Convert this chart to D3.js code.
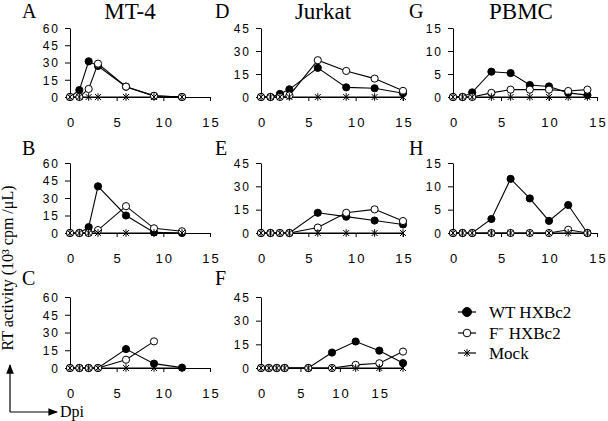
<!DOCTYPE html>
<html>
<head>
<meta charset="utf-8">
<script src="https://cdn.jsdelivr.net/npm/d3@7"></script>
<style>
  body { margin: 0; background: #fff; }
  svg { display: block; }
  .tick text { font-family: "Liberation Sans", Arial, sans-serif; fill: #000; letter-spacing: 2px; }
  .serif { font-family: "Liberation Serif", "Times New Roman", serif; fill: #000; }
</style>
</head>
<body>
<svg id="chart" width="608" height="421"></svg>
<script>
// cell lines (column titles) and series names
const cellTitles = ["MT-4", "Jurkat", "PBMC"];
const seriesNames = ["WT HXBc2", "F\u207B HXBc2", "Mock"];

// tick values
const mt4Ticks = [0, 15, 30, 45, 60];
const jurkatTicks = [0, 15, 30, 45];
const pbmcTicks = [0, 5, 10, 15];
const dayTicks = [0, 5, 10, 15];

// MT-4 (A, B, C)
const daysMT4 = [0, 1, 2, 3, 6, 9, 12];
const wtA = [0, 6, 31, 27, 9, 1, 0];
const fA = [0, 0, 7, 29, 9, 1, 0];
const mockA = [0, 0, 0, 0, 0, 0, 0];
const wtB = [0, 0, 5, 40, 15, 0.5, 0];
const fB = [0, 0, 0, 2.5, 23, 4, 1.5];
const mockB = [0, 0, 0, 0, 0, 0, 0];
const daysC = [0, 1, 2, 3, 6, 9, 12];
const wtC = [0, 0, 0, 0, 16, 3.7, 0.3];
const daysCf = [0, 1, 2, 3, 6, 9];
const fC = [0, 0, 0, 0, 7, 22.5];
const mockC = [0, 0, 0, 0, 0, 0, 0];

// Jurkat (D, E, F)
const daysJurkat = [0, 1, 2, 3, 6, 9, 12, 15];
const wtD = [0, 0, 2, 5, 19, 6.3, 5.7, 2.5];
const fD = [0, 0, 0, 1, 24, 17, 12, 4];
const mockD = [0, 0, 0, 0, 0, 0, 0, 0];
const wtE = [0, 0, 0, 0, 13, 10.5, 8, 5.5];
const fE = [0, 0, 0, 0, 3.5, 13, 15.2, 7.7];
const mockE = [0, 0, 0, 0, 0, 0, 0, 0];
const daysF = [0, 1, 2, 3, 6, 9, 12, 15, 18];
const wtF = [0, 0, 0, 0, 0, 9.8, 16.8, 11, 3.1];
const fF = [0, 0, 0, 0, 0, 0, 2, 3, 10.4];
const mockF = [0, 0, 0, 0, 0, 0, 0, 0, 0];

// PBMC (G, H)
const daysPBMC = [0, 1, 2, 4, 6, 8, 10, 12, 14];
const wtG = [0, 0, 1, 5.5, 5.2, 2.6, 2.3, 0.9, 0.4];
const fG = [0, 0, 0, 0.9, 1.6, 1.6, 1.6, 1.3, 1.6];
const mockG = [0, 0, 0, 0, 0, 0, 0, 0, 0];
const wtH = [0, 0, 0, 3, 11.6, 7.4, 2.6, 6, 0];
const fH = [0, 0, 0, 0, 0, 0, 0, 0.7, 0];
const mockH = [0, 0, 0, 0, 0, 0, 0, 0, 0];

// layout
const cols = [
  { x0: 70, w: 140, letterX: 22, titleX: 130 },
  { x0: 261, w: 142, letterX: 215, titleX: 323 },
  { x0: 453, w: 144, letterX: 409, titleX: 521 }
];
const rows = [
  { y0: 97, top: 28, letterY: 18 },
  { y0: 233, top: 163, letterY: 155 },
  { y0: 368, top: 297, letterY: 285 }
];

const zip = (xs, ys) => xs.map((d, i) => [d, ys[i]]);

const panels = [
  { letter: "A", col: 0, row: 0, ticks: mt4Ticks, xMax: 15, wt: zip(daysMT4, wtA), f: zip(daysMT4, fA), mock: zip(daysMT4, mockA) },
  { letter: "B", col: 0, row: 1, ticks: mt4Ticks, xMax: 15, wt: zip(daysMT4, wtB), f: zip(daysMT4, fB), mock: zip(daysMT4, mockB) },
  { letter: "C", col: 0, row: 2, ticks: mt4Ticks, xMax: 15, wt: zip(daysC, wtC), f: zip(daysCf, fC), mock: zip(daysC, mockC) },
  { letter: "D", col: 1, row: 0, ticks: jurkatTicks, xMax: 15, wt: zip(daysJurkat, wtD), f: zip(daysJurkat, fD), mock: zip(daysJurkat, mockD) },
  { letter: "E", col: 1, row: 1, ticks: jurkatTicks, xMax: 15, wt: zip(daysJurkat, wtE), f: zip(daysJurkat, fE), mock: zip(daysJurkat, mockE) },
  { letter: "F", col: 1, row: 2, ticks: jurkatTicks, xMax: 18, wt: zip(daysF, wtF), f: zip(daysF, fF), mock: zip(daysF, mockF) },
  { letter: "G", col: 2, row: 0, ticks: pbmcTicks, xMax: 15, wt: zip(daysPBMC, wtG), f: zip(daysPBMC, fG), mock: zip(daysPBMC, mockG) },
  { letter: "H", col: 2, row: 1, ticks: pbmcTicks, xMax: 15, wt: zip(daysPBMC, wtH), f: zip(daysPBMC, fH), mock: zip(daysPBMC, mockH) }
];

const svg = d3.select("#chart");
svg.append("rect").attr("width", 608).attr("height", 421).attr("fill", "#fff");

const starPath = "M-3,-3L3,3M-3,3L3,-3M0,-3.8L0,3.8";

function drawMarkers(g, pts, x, y, kind) {
  if (kind === "mock") {
    g.append("g").selectAll("path").data(pts).join("path")
      .attr("d", starPath)
      .attr("transform", d => `translate(${x(d[0])},${y(d[1])})`)
      .attr("stroke", "#000").attr("stroke-width", 1).attr("fill", "none");
  } else {
    g.append("g").selectAll("circle").data(pts).join("circle")
      .attr("cx", d => x(d[0])).attr("cy", d => y(d[1]))
      .attr("r", 3.6)
      .attr("fill", kind === "wt" ? "#000" : "#fff")
      .attr("stroke", "#000").attr("stroke-width", 1);
  }
}

panels.forEach(p => {
  const c = cols[p.col], r = rows[p.row];
  const x = d3.scaleLinear().domain([0, p.xMax]).range([c.x0, c.x0 + c.w]);
  const y = d3.scaleLinear().domain([0, d3.max(p.ticks)]).range([r.y0, r.top]);
  const g = svg.append("g");

  g.append("g")
    .attr("transform", `translate(${c.x0},0)`)
    .call(d3.axisLeft(y).tickValues(p.ticks).tickSize(5).tickSizeOuter(0).tickPadding(5))
    .call(a => a.selectAll("text").attr("font-size", 12).attr("dy", "0.36em"));

  g.append("g")
    .attr("transform", `translate(0,${r.y0})`)
    .call(d3.axisBottom(x).tickValues(dayTicks).tickSize(4).tickSizeOuter(0).tickPadding(17))
    .call(a => a.selectAll("text").attr("font-size", 13).attr("dx", "1px"));

  const line = d3.line().x(d => x(d[0])).y(d => y(d[1]));
  [["wt", p.wt], ["f", p.f], ["mock", p.mock]].forEach(([kind, pts]) => {
    g.append("path").datum(pts).attr("d", line)
      .attr("fill", "none").attr("stroke", "#000").attr("stroke-width", 1.1);
  });
  drawMarkers(g, p.wt, x, y, "wt");
  drawMarkers(g, p.f, x, y, "f");
  drawMarkers(g, p.mock, x, y, "mock");

  svg.append("text").attr("class", "serif")
    .attr("x", c.letterX).attr("y", r.letterY)
    .attr("font-size", 20).text(p.letter);
});

cellTitles.forEach((t, i) => {
  svg.append("text").attr("class", "serif")
    .attr("x", cols[i].titleX).attr("y", 19)
    .attr("text-anchor", "middle").attr("font-size", 23).text(t);
});

// y axis label
svg.append("text").attr("class", "serif")
  .attr("transform", "translate(13,268) rotate(-90)")
  .attr("text-anchor", "middle").attr("font-size", 16)
  .text("RT activity (10\u00B3 cpm /\u03BCL)");

// corner arrows
const defs = svg.append("defs");
defs.append("marker").attr("id", "arrow")
  .attr("viewBox", "0 0 10 10").attr("refX", 9).attr("refY", 5)
  .attr("markerWidth", 8).attr("markerHeight", 8).attr("orient", "auto")
  .append("path").attr("d", "M0,1L10,5L0,9Z").attr("fill", "#000");
svg.append("line").attr("x1", 10).attr("y1", 412).attr("x2", 10).attr("y2", 365)
  .attr("stroke", "#000").attr("stroke-width", 1.2).attr("marker-end", "url(#arrow)");
svg.append("line").attr("x1", 10).attr("y1", 412).attr("x2", 57).attr("y2", 412)
  .attr("stroke", "#000").attr("stroke-width", 1.2).attr("marker-end", "url(#arrow)");
svg.append("text").attr("class", "serif").attr("x", 60).attr("y", 417)
  .attr("font-size", 16).text("Dpi");

// legend
const legendY = [312, 333, 353];
const legendKinds = ["wt", "f", "mock"];
seriesNames.forEach((name, i) => {
  const lg = svg.append("g").attr("transform", `translate(467,${legendY[i]})`);
  lg.append("line").attr("x1", -9).attr("x2", 9).attr("stroke", "#000").attr("stroke-width", 1.2);
  if (legendKinds[i] === "mock") {
    lg.append("path").attr("d", starPath).attr("stroke", "#000").attr("fill", "none");
  } else {
    lg.append("circle").attr("r", legendKinds[i] === "wt" ? 4.5 : 3.8)
      .attr("fill", legendKinds[i] === "wt" ? "#000" : "#fff").attr("stroke", "#000");
  }
  lg.append("text").attr("class", "serif").attr("x", 22).attr("y", 6)
    .attr("font-size", 17).text(name);
});
</script>
</body>
</html>
